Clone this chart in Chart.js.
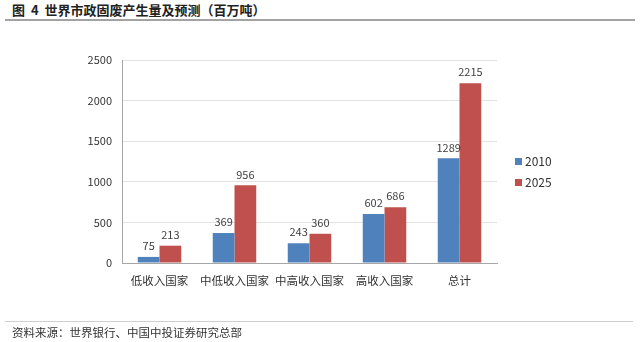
<!DOCTYPE html>
<html lang="zh-cn">
<head>
<meta charset="UTF-8">
<title>世界市政固废产生量及预测</title>
<script src="https://cdn.jsdelivr.net/npm/chart.js"></script>
<style>
    body { margin: 0; background: #fff; }
    .quadro { position: relative; width: 640px; height: 342px; font-family: "Noto Sans CJK SC", sans-serif; }
    .titulo { position: absolute; left: 12px; top: 0px; font-size: 13px; font-weight: bold; color: #222; line-height: 19px; word-spacing: 3px; }
    .linha-topo { position: absolute; left: 5px; top: 19px; width: 630px; height: 2px; background: #a3a3a3; }
    .linha-base { position: absolute; left: 5px; top: 321px; width: 628px; height: 1px; background: #cfcfcf; }
    .fonte { position: absolute; left: 12px; top: 324px; font-size: 11.5px; color: #333; line-height: 16px; }
    canvas { position: absolute; left: 0; top: 0; }
</style>
</head>
<body>
<div class="quadro">
    <div class="titulo">图 4 世界市政固废产生量及预测（百万吨）</div>
    <div class="linha-topo"></div>
    <canvas id="grafico" width="640" height="342"></canvas>
    <div class="linha-base"></div>
    <div class="fonte">资料来源：世界银行、中国中投证券研究总部</div>
</div>

<script>
    // dados
    const categorias = ['低收入国家', '中低收入国家', '中高收入国家', '高收入国家', '总计']
    const anos = ['2010', '2025']
    const valores2010 = [75, 369, 243, 602, 1289]
    const valores2025 = [213, 956, 360, 686, 2215]
    const cores = ['#4f81bd', '#c0504d']

    const fonte = '"Noto Sans CJK SC", sans-serif'

    // rótulos em cima das barras
    const rotulos = {
        id: 'rotulos',
        afterDatasetsDraw(chart) {
            const ctx = chart.ctx
            ctx.save()
            ctx.font = '11px ' + fonte
            ctx.fillStyle = '#404040'
            ctx.textAlign = 'center'
            ctx.textBaseline = 'middle'
            chart.data.datasets.forEach(function (ds, i) {
                chart.getDatasetMeta(i).data.forEach(function (barra, j) {
                    ctx.fillText(ds.data[j], barra.x, barra.y - 11)
                })
            })
            ctx.restore()
        }
    }

    // legenda à direita
    const legenda = {
        id: 'legenda',
        afterDraw(chart) {
            const ctx = chart.ctx
            ctx.save()
            ctx.font = '12px ' + fonte
            ctx.textBaseline = 'middle'
            ctx.textAlign = 'left'
            chart.data.datasets.forEach(function (ds, i) {
                const y = 161 + i * 21
                ctx.fillStyle = ds.backgroundColor
                ctx.fillRect(515, y - 3, 7, 7)
                ctx.fillStyle = '#333'
                ctx.fillText(ds.label, 525, y + 0.5)
            })
            ctx.restore()
        }
    }

    new Chart(document.getElementById('grafico'), {
        type: 'bar',
        data: {
            labels: categorias,
            datasets: [
                { label: anos[0], data: valores2010, backgroundColor: cores[0] },
                { label: anos[1], data: valores2025, backgroundColor: cores[1] }
            ]
        },
        options: {
            responsive: false,
            animation: false,
            layout: { padding: { top: 60, right: 143, left: 0, bottom: 0 } },
            datasets: { bar: { categoryPercentage: 0.58, barPercentage: 1.0 } },
            scales: {
                x: {
                    grid: { display: false, drawTicks: false },
                    border: { color: '#a6a6a6' },
                    ticks: { color: '#333', font: { family: fonte, size: 11.5 }, padding: 11, maxRotation: 0, autoSkip: false },
                    afterFit(scale) { scale.height = 79 }
                },
                y: {
                    min: 0,
                    max: 2500,
                    ticks: {
                        stepSize: 500, color: '#333', font: { family: fonte, size: 11 }, padding: 10,
                        callback: function (v) { return String(v) }
                    },
                    grid: { color: '#e3e3e3', drawTicks: false },
                    border: { color: '#a6a6a6' },
                    afterFit(scale) { scale.width = 122 }
                }
            },
            plugins: {
                legend: { display: false },
                tooltip: { enabled: false }
            }
        },
        plugins: [rotulos, legenda]
    })
</script>
</body>
</html>
